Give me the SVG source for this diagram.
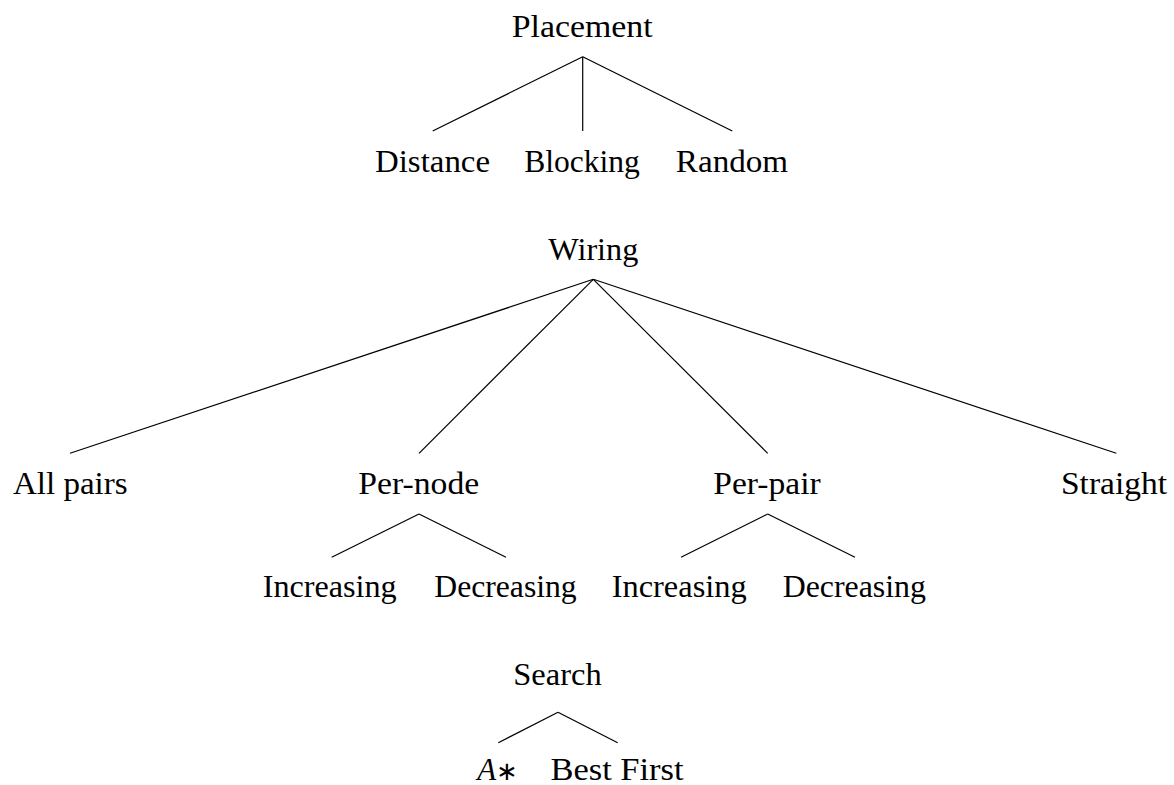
<svg xmlns="http://www.w3.org/2000/svg" width="1174" height="785" viewBox="0 0 1174 785">
<style>
text{font-size:31px;fill:#000;text-anchor:middle}
.e{stroke:#000;stroke-width:1.2;fill:none;stroke-linecap:butt}
</style>
<rect width="1174" height="785" fill="#fff"/>
<g id="connectors" class="e">
<line x1="582.7" y1="56.7" x2="432.7" y2="131"/>
<line x1="582.7" y1="56.7" x2="582.7" y2="131"/>
<line x1="582.7" y1="56.7" x2="732.3" y2="131"/>
<line x1="593.3" y1="279.3" x2="70" y2="453.3"/>
<line x1="593.3" y1="279.3" x2="419" y2="453.3"/>
<line x1="593.3" y1="279.3" x2="767.7" y2="453.3"/>
<line x1="593.3" y1="279.3" x2="1116.3" y2="453.3"/>
<line x1="419" y1="514" x2="331.7" y2="557.3"/>
<line x1="419" y1="514" x2="506" y2="557.3"/>
<line x1="767.7" y1="514" x2="681" y2="557.3"/>
<line x1="767.7" y1="514" x2="855" y2="557.3"/>
<line x1="558" y1="712.3" x2="498.3" y2="742.7"/>
<line x1="558" y1="712.3" x2="617.7" y2="742.7"/>
</g>
<g id="labels" font-family="Liberation Serif, DejaVu Serif, serif">
<g id="placement"><text x="582.2" y="37" textLength="141" lengthAdjust="spacingAndGlyphs">Placement</text></g>
<g id="distance"><text x="432.5" y="171.5" textLength="115" lengthAdjust="spacingAndGlyphs">Distance</text></g>
<g id="blocking"><text x="582" y="171.5" textLength="115.7" lengthAdjust="spacingAndGlyphs">Blocking</text></g>
<g id="random"><text x="732" y="171.5" textLength="112.3" lengthAdjust="spacingAndGlyphs">Random</text></g>
<g id="wiring"><text x="593.3" y="260" textLength="90" lengthAdjust="spacingAndGlyphs">Wiring</text></g>
<g id="allpairs"><text x="70.3" y="493.5" textLength="114.7" lengthAdjust="spacingAndGlyphs">All pairs</text></g>
<g id="pernode"><text x="418.8" y="494" textLength="121" lengthAdjust="spacingAndGlyphs">Per-node</text></g>
<g id="perpair"><text x="767" y="494" textLength="107.4" lengthAdjust="spacingAndGlyphs">Per-pair</text></g>
<g id="straight"><text x="1114" y="494" textLength="106" lengthAdjust="spacingAndGlyphs">Straight</text></g>
<g id="pernode-increasing"><text x="329.7" y="597" textLength="134" lengthAdjust="spacingAndGlyphs">Increasing</text></g>
<g id="pernode-decreasing"><text x="505.5" y="597" textLength="142.4" lengthAdjust="spacingAndGlyphs">Decreasing</text></g>
<g id="perpair-increasing"><text x="679.2" y="597" textLength="135" lengthAdjust="spacingAndGlyphs">Increasing</text></g>
<g id="perpair-decreasing"><text x="854.3" y="597" textLength="143.3" lengthAdjust="spacingAndGlyphs">Decreasing</text></g>
<g id="search"><text x="557.5" y="685" textLength="88.4" lengthAdjust="spacingAndGlyphs">Search</text></g>
<g id="astar"><text x="497.5" y="780"><tspan font-style="italic">A</tspan><tspan font-family="DejaVu Sans, sans-serif" font-size="26">∗</tspan></text></g>
<g id="bestfirst"><text x="617" y="780" textLength="133" lengthAdjust="spacingAndGlyphs">Best First</text></g>
</g>
</svg>
